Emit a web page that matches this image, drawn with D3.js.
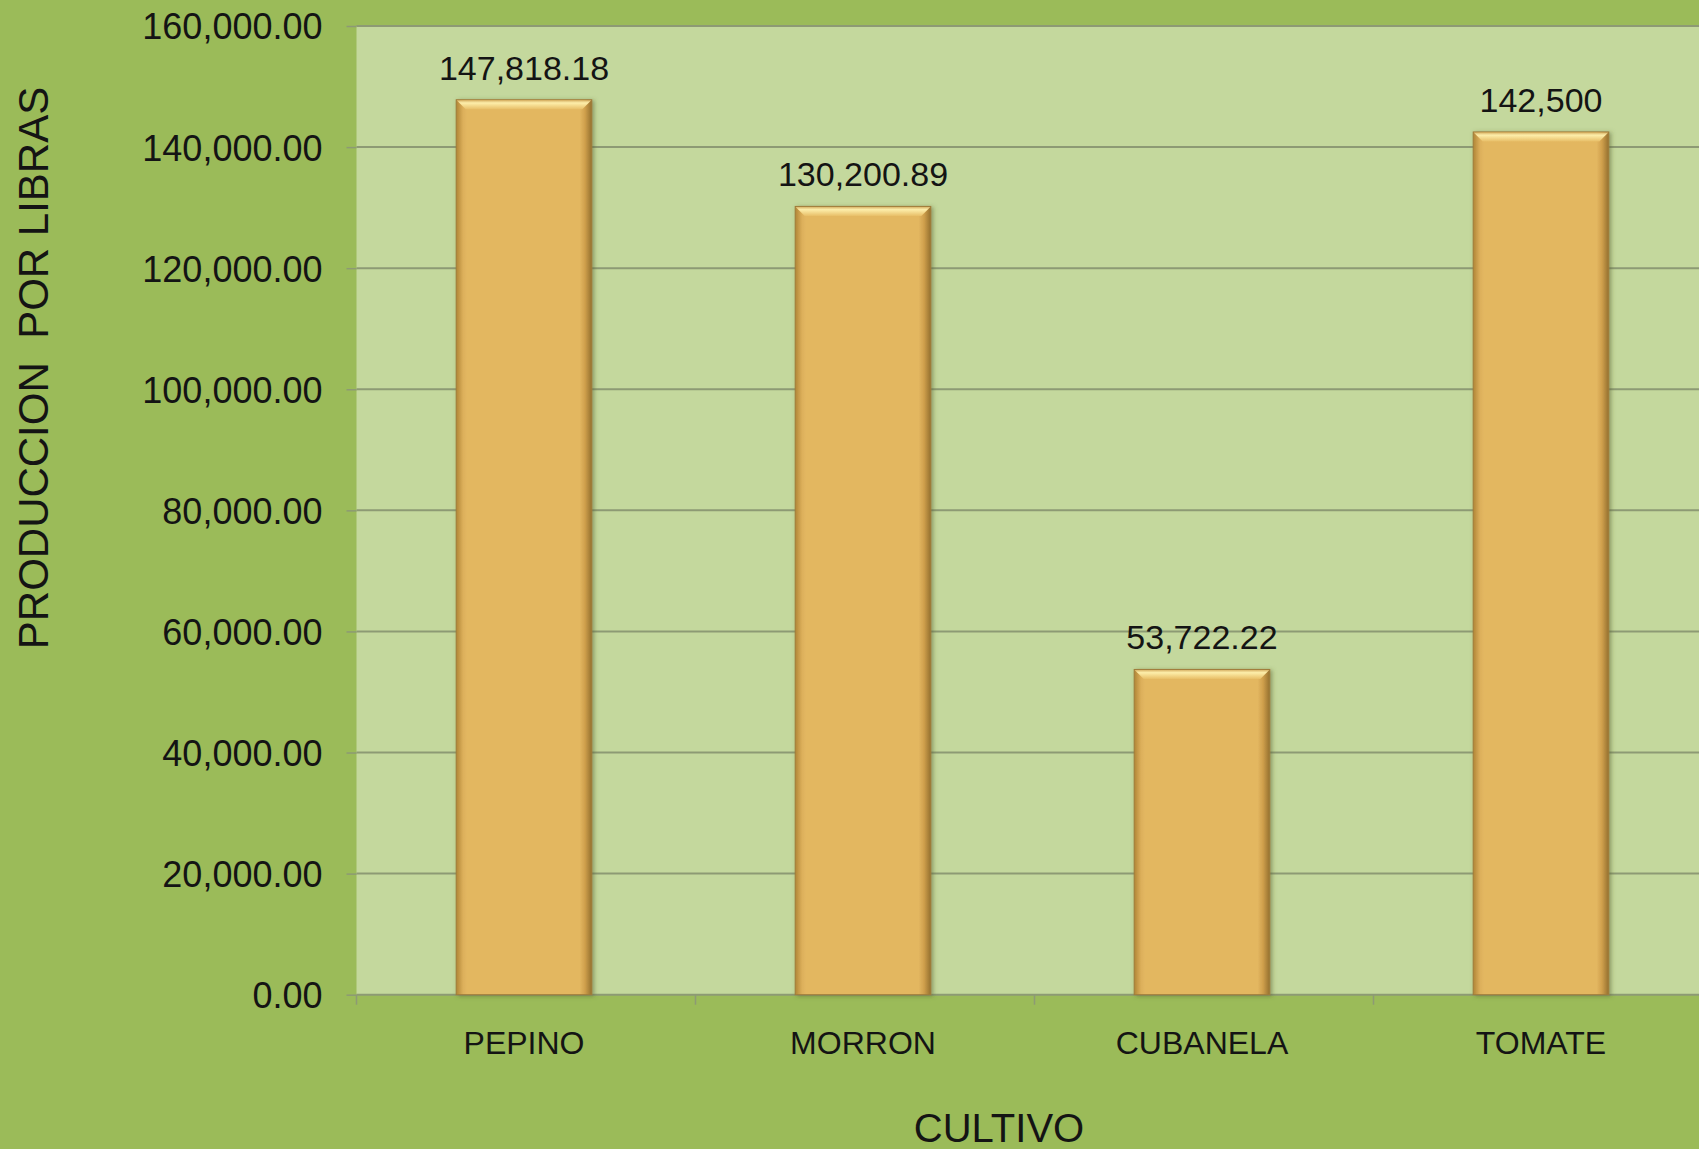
<!DOCTYPE html>
<html>
<head>
<meta charset="utf-8">
<script src="https://cdn.jsdelivr.net/npm/d3@7"></script>
<style>
  html, body { margin: 0; padding: 0; background: #9bbb59; }
  svg { display: block; }
  text { font-family: "Liberation Sans", Arial, sans-serif; fill: #141414; }
</style>
</head>
<body>
<div id="chart"></div>
<script>
var width = 1699,
    height = 1149;

// data
var cultivos = ["PEPINO", "MORRON", "CUBANELA", "TOMATE"];
var produccion = [147818.18, 130200.89, 53722.22, 142500];
var etiquetas = ["147,818.18", "130,200.89", "53,722.22", "142,500"];
var yTicks = [0, 20000, 40000, 60000, 80000, 100000, 120000, 140000, 160000];

var plot = {left: 356.5, top: 26, right: 1712.5, bottom: 994.7};

var svg = d3.select("#chart")
    .append("svg")
    .attr("width", width)
    .attr("height", height);

svg.append("rect")
    .attr("width", width)
    .attr("height", height)
    .attr("fill", "#9bbb59");

var defs = svg.append("defs");

var shadow = defs.append("filter")
    .attr("id", "shadow")
    .attr("x", "-20%").attr("y", "-10%")
    .attr("width", "140%").attr("height", "120%");
shadow.append("feDropShadow")
    .attr("dx", 2).attr("dy", 1)
    .attr("stdDeviation", 2)
    .attr("flood-color", "#4f5a2a")
    .attr("flood-opacity", 0.5);

// top bevel
var topGrad = defs.append("linearGradient")
    .attr("id", "bevelTop")
    .attr("x1", 0).attr("y1", 0).attr("x2", 0).attr("y2", 1);
topGrad.append("stop").attr("offset", "0%").attr("stop-color", "#d9b468");
topGrad.append("stop").attr("offset", "30%").attr("stop-color", "#fdeeaa");
topGrad.append("stop").attr("offset", "100%").attr("stop-color", "#e8bf68");

// side shading
var sideGrad = defs.append("linearGradient")
    .attr("id", "bevelSide")
    .attr("x1", 0).attr("y1", 0).attr("x2", 1).attr("y2", 0);
sideGrad.append("stop").attr("offset", "0%").attr("stop-color", "#b08537");
sideGrad.append("stop").attr("offset", "5%").attr("stop-color", "#dcaf5a");
sideGrad.append("stop").attr("offset", "8%").attr("stop-color", "#e3b761");
sideGrad.append("stop").attr("offset", "91%").attr("stop-color", "#e3b761");
sideGrad.append("stop").attr("offset", "95%").attr("stop-color", "#cf9f4c");
sideGrad.append("stop").attr("offset", "100%").attr("stop-color", "#94702f");

var x = d3.scaleBand()
    .domain(cultivos)
    .range([plot.left, plot.right])
    .padding(0);

var y = d3.scaleLinear()
    .domain([0, 160000])
    .range([plot.bottom, plot.top]);

var barW = x.bandwidth() * 0.4;
var bevel = 9;

function barX(d) {
    return x(d) + (x.bandwidth() - barW) / 2 - 2;
}

// plot area
svg.append("rect")
    .attr("x", plot.left)
    .attr("y", plot.top)
    .attr("width", plot.right - plot.left)
    .attr("height", plot.bottom - plot.top)
    .attr("fill", "#c4d89d");

// gridlines
svg.append("g")
    .selectAll("line")
    .data(yTicks.slice(1))
    .enter().append("line")
    .attr("x1", plot.left)
    .attr("x2", plot.right)
    .attr("y1", function (d) { return y(d); })
    .attr("y2", function (d) { return y(d); })
    .attr("stroke", "#8d9a74")
    .attr("stroke-width", 2);

// y axis
var yAxis = d3.axisLeft(y)
    .tickValues(yTicks)
    .tickSize(10)
    .tickPadding(24)
    .tickFormat(d3.format(",.2f"));

var gy = svg.append("g")
    .attr("transform", "translate(" + plot.left + ",0)")
    .call(yAxis);
gy.select(".domain").remove();
gy.selectAll(".tick line").attr("stroke", "#8d9a74").attr("stroke-width", 1.5);
gy.selectAll(".tick text")
    .attr("font-size", 36)
    .attr("fill", "#141414")
    .attr("dy", "0.36em");

// x axis
var gx = svg.append("g")
    .attr("transform", "translate(0," + plot.bottom + ")");
gx.append("line")
    .attr("x1", plot.left).attr("x2", plot.right)
    .attr("stroke", "#8d9a74").attr("stroke-width", 2);
gx.selectAll("line.tick")
    .data(cultivos)
    .enter().append("line")
    .attr("class", "tick")
    .attr("x1", function (d) { return x(d); })
    .attr("x2", function (d) { return x(d); })
    .attr("y1", 0).attr("y2", 10)
    .attr("stroke", "#8d9a74").attr("stroke-width", 1.5);
gx.selectAll("text")
    .data(cultivos)
    .enter().append("text")
    .attr("x", function (d) { return x(d) + x.bandwidth() / 2 - 2; })
    .attr("y", 59)
    .attr("text-anchor", "middle")
    .attr("font-size", 32)
    .text(function (d) { return d; });

// bars
var bars = svg.append("g")
    .selectAll("g")
    .data(cultivos)
    .enter().append("g")
    .attr("filter", "url(#shadow)");

bars.append("rect")
    .attr("x", barX)
    .attr("y", function (d, i) { return y(produccion[i]); })
    .attr("width", barW)
    .attr("height", function (d, i) { return plot.bottom - y(produccion[i]); })
    .attr("fill", "url(#bevelSide)")
    .attr("stroke", "#a07c3a")
    .attr("stroke-width", 1);

// chamfered top bevel
bars.append("path")
    .attr("fill", "url(#bevelTop)")
    .attr("d", function (d, i) {
        var x0 = barX(d) + 0.5, x1 = barX(d) + barW - 0.5, t = y(produccion[i]) + 0.5;
        return "M" + x0 + "," + t + "L" + x1 + "," + t
            + "L" + (x1 - bevel) + "," + (t + bevel)
            + "L" + (x0 + bevel) + "," + (t + bevel) + "Z";
    });

// data labels
svg.append("g")
    .selectAll("text")
    .data(cultivos)
    .enter().append("text")
    .attr("x", function (d) { return x(d) + x.bandwidth() / 2 - 2; })
    .attr("y", function (d, i) { return y(produccion[i]) - 20; })
    .attr("text-anchor", "middle")
    .attr("font-size", 34)
    .attr("fill", "#222")
    .text(function (d, i) { return etiquetas[i]; });

// axis titles
svg.append("text")
    .attr("transform", "translate(48,368) rotate(-90)")
    .attr("text-anchor", "middle")
    .attr("font-size", 42)
    .attr("xml:space", "preserve")
    .text("PRODUCCION  POR LIBRAS");

svg.append("text")
    .attr("x", 999)
    .attr("y", 1142)
    .attr("text-anchor", "middle")
    .attr("font-size", 40)
    .text("CULTIVO");
</script>
</body>
</html>
